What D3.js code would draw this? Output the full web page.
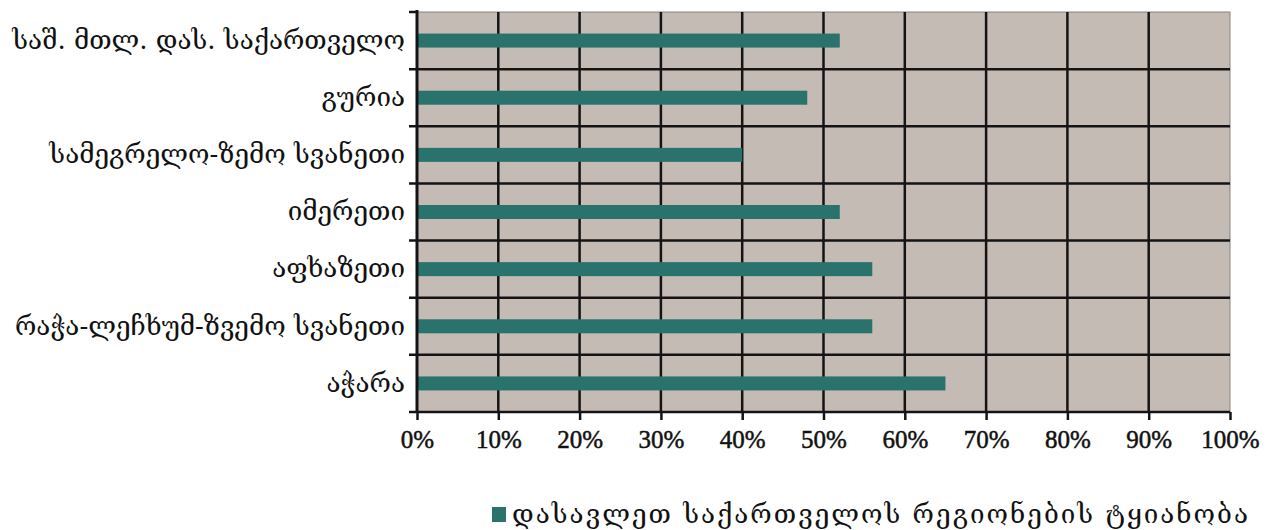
<!DOCTYPE html>
<html><head><meta charset="utf-8">
<script src="https://cdn.jsdelivr.net/npm/d3@7"></script>
<style>
html,body{margin:0;padding:0;background:#fff;}
svg{display:block;}
</style></head>
<body>
<svg id="chart" width="1274" height="530"></svg>
<script>
const categories = ["საშ. მთლ. დას. საქართველო","გურია","სამეგრელო-ზემო სვანეთი","იმერეთი","აფხაზეთი","რაჭა-ლეჩხუმ-ზვემო სვანეთი","აჭარა"];
const values = [52, 48, 40, 52, 56, 56, 65];
const tickValues = [0,10,20,30,40,50,60,70,80,90,100];
const seriesName = "დასავლეთ საქართველოს რეგიონების ტყიანობა";

(function(){
const svg = d3.select("#chart");
const pL = 417, pR = 1230, pT = 12, pB = 412;
const geo = "'DejaVu Serif','DejaVu Sans',serif";
const bg = "#c4bbb4", barColor = "#2a726c", ink = "#141414";

const x = d3.scaleLinear().domain([0,100]).range([pL,pR]);
const y = d3.scaleBand().domain(categories).range([pT,pB]);

svg.append("rect").attr("x",pL).attr("y",pT).attr("width",pR-pL).attr("height",pB-pT)
  .attr("fill",bg).attr("stroke","#8a827c").attr("stroke-width",1);

svg.append("g").selectAll("line").data(tickValues.filter(d=>d>0&&d<100)).join("line")
  .attr("x1",d=>x(d)).attr("x2",d=>x(d)).attr("y1",pT).attr("y2",pB)
  .attr("stroke",ink).attr("stroke-width",2.5);

const bounds = categories.map(c=>y(c)).concat([pB]);
svg.append("g").selectAll("line").data(bounds.slice(1,-1)).join("line")
  .attr("x1",pL-8).attr("x2",pR).attr("y1",d=>d).attr("y2",d=>d)
  .attr("stroke",ink).attr("stroke-width",2.5);

const bh = 14;
svg.append("g").selectAll("rect").data(values).join("rect")
  .attr("x",x(0)).attr("y",(d,i)=>y(categories[i])+y.bandwidth()/2-bh/2)
  .attr("width",d=>x(d)-x(0)).attr("height",bh).attr("fill",barColor);

const xAxis = d3.axisBottom(x).tickValues(tickValues).tickFormat(d=>d+"%").tickSize(8).tickPadding(10);
const gx = svg.append("g").attr("transform",`translate(0,${pB})`).call(xAxis);
gx.select(".domain").attr("stroke",ink).attr("stroke-width",2.5).attr("d",`M${pL},0H${pR}`);
gx.selectAll(".tick line").attr("stroke",ink).attr("stroke-width",2.5);
gx.selectAll("text").attr("fill","#111").attr("stroke","#111").attr("stroke-width",0.5)
  .style("font-family","'Liberation Serif','Times New Roman',serif").style("font-size","25px");

const yAxis = d3.axisLeft(y).tickSize(0).tickPadding(12);
const gy = svg.append("g").attr("transform",`translate(${pL},0)`).call(yAxis);
gy.select(".domain").attr("stroke",ink).attr("stroke-width",3).attr("d",`M0,${pT-2}V${pB}`);
gy.selectAll("text").attr("fill","#111").style("font-family",geo).style("font-size","26px");
svg.append("g").selectAll("line").data([pT, pB]).join("line")
  .attr("x1",pL-8).attr("x2",pL).attr("y1",d=>d).attr("y2",d=>d)
  .attr("stroke",ink).attr("stroke-width",2.5);

const lg = svg.append("g").attr("transform","translate(492,507)");
lg.append("rect").attr("x",0).attr("y",0).attr("width",14).attr("height",15).attr("fill",barColor);
lg.append("text").attr("x",20).attr("y",16).text(seriesName)
  .attr("textLength",736).attr("lengthAdjust","spacing")
  .attr("fill","#111").style("font-family",geo).style("font-size","26px");
})();
</script>
</body></html>
